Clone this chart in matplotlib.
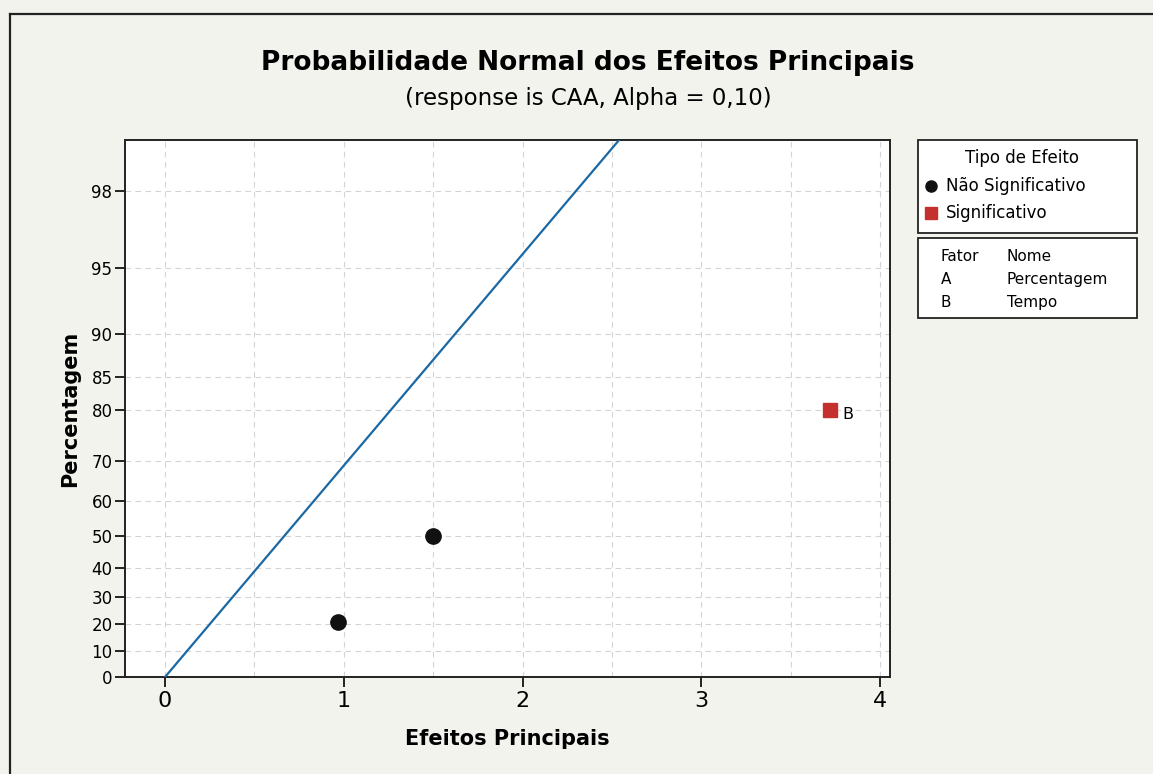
import math
import matplotlib.pyplot as plt
from matplotlib.lines import Line2D
from matplotlib.patches import Rectangle
from matplotlib.ticker import MultipleLocator

# effects and their half-normal plotting percentages
efeitos = [0.97, 1.50, 3.72]
percent = [20.8, 50.0, 80.0]
signif = [False, False, True]
rotulos = ['', '', 'B']
pse = 0.987  # slope of the reference line

yticks_pct = [0, 10, 20, 30, 40, 50, 60, 70, 80, 85, 90, 95, 98]
tipos = ['Não Significativo', 'Significativo']
tabela = [('Fator', 'Nome'), ('A', 'Percentagem'), ('B', 'Tempo')]

preto = '#111111'
vermelho = '#c4302e'


def hn_z(p):
    # half-normal score for a percentage p (0..100), by bisection on erf
    q = p / 100.0
    lo, hi = 0.0, 8.0
    for _ in range(80):
        mid = (lo + hi) / 2
        if math.erf(mid / math.sqrt(2)) < q:
            lo = mid
        else:
            hi = mid
    return (lo + hi) / 2


bg = '#f3f3ee'
fig = plt.figure(figsize=(11.53, 7.74), dpi=100, facecolor=bg)
ax = fig.add_axes([0.1084, 0.1253, 0.6635, 0.6938])
ax.set_facecolor('white')

# page border (scan)
fig.add_artist(Line2D([0.009, 0.009], [0.0, 0.982], color='#222', lw=1.6, transform=fig.transFigure))
fig.add_artist(Line2D([0.009, 1.0], [0.982, 0.982], color='#222', lw=1.6, transform=fig.transFigure))

ytop = 2.573
ax.set_xlim(-0.224, 4.055)
ax.set_ylim(0, ytop)

ax.plot([0, ytop * pse * 1.05], [0, ytop * 1.05], color='#1b68a3', lw=1.6, zorder=3)

for x, p, s, lab in zip(efeitos, percent, signif, rotulos):
    z = hn_z(p)
    if s:
        ax.plot(x, z, marker='s', ms=10, color=vermelho, mec=vermelho, zorder=4, clip_on=False)
        ax.text(x + 0.07, z - 0.025, lab, fontsize=11.5, va='center', ha='left')
    else:
        ax.plot(x, z, marker='o', ms=11, color=preto, zorder=4)

ax.set_yticks([hn_z(p) for p in yticks_pct], labels=[str(p) for p in yticks_pct])
ax.set_xticks([0, 1, 2, 3, 4])
ax.xaxis.set_minor_locator(MultipleLocator(0.5))
ax.tick_params(axis='y', labelsize=12, length=7, width=1.2, pad=2)
ax.tick_params(axis='x', labelsize=16, length=7, width=1.2, pad=3)
ax.tick_params(axis='x', which='minor', length=0)
ax.grid(True, which='both', axis='x', color='#d4d4d4', ls=(0, (5, 4)), lw=0.8)
ax.grid(True, which='major', axis='y', color='#d4d4d4', ls=(0, (5, 4)), lw=0.8)
ax.set_axisbelow(True)
for sp in ax.spines.values():
    sp.set_linewidth(1.4)
    sp.set_color('#222')

ax.set_xlabel('Efeitos Principais', fontsize=15, fontweight='bold', labelpad=13)
ax.set_ylabel('Percentagem', fontsize=15, fontweight='bold', labelpad=8)

fig.text(0.51, 0.918, 'Probabilidade Normal dos Efeitos Principais', ha='center', va='center',
         fontsize=19, fontweight='bold')
fig.text(0.51, 0.873, '(response is CAA, Alpha = 0,10)', ha='center', va='center', fontsize=16.5)

# legend box 1: effect type
x0, y0, w, h = 0.796, 0.699, 0.19, 0.12
fig.add_artist(Rectangle((x0, y0), w, h, transform=fig.transFigure,
                         facecolor='white', edgecolor='#222', lw=1.3))
fig.text(0.886, 0.796, 'Tipo de Efeito', fontsize=12, ha='center', va='center')
for i, (t, m, c) in enumerate(zip(tipos, ['o', 's'], [preto, vermelho])):
    yy = 0.760 - i * 0.035
    fig.add_artist(Line2D([0.8075], [yy], marker=m, ms=8, color=c, ls='', transform=fig.transFigure))
    fig.text(0.8205, yy, t, fontsize=12, va='center')

# legend box 2: factor table
x0, y0, w, h = 0.796, 0.589, 0.19, 0.103
fig.add_artist(Rectangle((x0, y0), w, h, transform=fig.transFigure,
                         facecolor='white', edgecolor='#222', lw=1.3))
for i, (f, n) in enumerate(tabela):
    yy = y0 + h - 0.023 - i * 0.03
    fig.text(x0 + 0.02, yy, f, fontsize=11, va='center')
    fig.text(x0 + 0.077, yy, n, fontsize=11, va='center')

plt.savefig('out.png', dpi=100, facecolor=bg)
